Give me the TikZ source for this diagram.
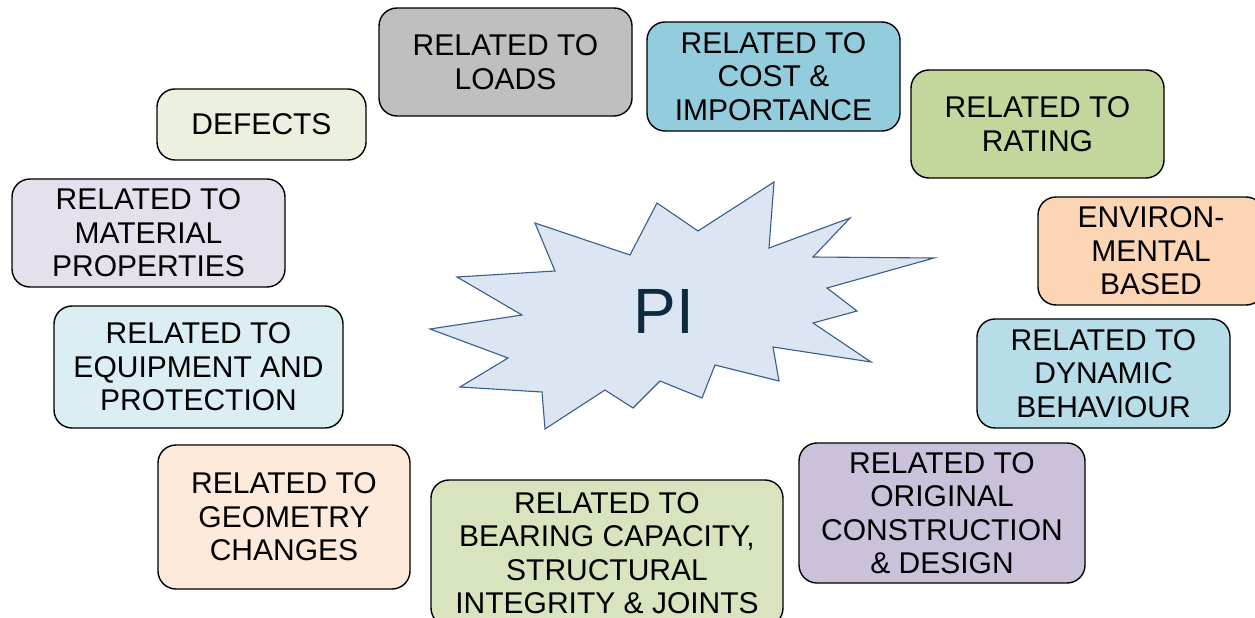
\documentclass[tikz,border=0pt]{standalone}
\usepackage{fontspec}
\setmainfont{Liberation Sans}
\definecolor{loadsgray}{HTML}{BFBFBF}
\definecolor{costblue}{HTML}{93CDDD}
\definecolor{ratinggreen}{HTML}{C3D69B}
\definecolor{defectsgreen}{HTML}{EBF1DE}
\definecolor{materialviolet}{HTML}{E6E0EC}
\definecolor{environpeach}{HTML}{FCD5B5}
\definecolor{equipblue}{HTML}{DBEEF4}
\definecolor{dynblue}{HTML}{B7DEE8}
\definecolor{geompeach}{HTML}{FDEADA}
\definecolor{bearinggreen}{HTML}{D7E4BD}
\definecolor{origviolet}{HTML}{CCC1DA}
\definecolor{burstfill}{HTML}{DCE6F2}
\definecolor{burstline}{HTML}{385D8A}
\definecolor{pitext}{HTML}{0E2A3F}

\begin{document}
\begin{tikzpicture}[x=1pt, y=-1pt,
  pibox/.style={draw, line width=1.4pt, rounded corners=18pt, align=center, inner sep=0pt,
    font=\fontsize{30}{33.5}\selectfont}]
\clip (0,0) rectangle (1255,618);
\fill[white] (0,0) rectangle (1255,618);
\draw [fill=burstfill, draw=burstline, line width=1.1pt, line join=miter]
  (430,329) -- (522,315) -- (457,277) -- (555,271) -- (535,223) -- (630,255) -- (657,203)
  -- (698,231) -- (774,182) -- (769,248) -- (850,218) -- (813,257) -- (934,258) -- (827,288)
  -- (857,311) -- (813,323) -- (871,362) -- (773,347) -- (779,381) -- (715,365) -- (702,398)
  -- (660,381) -- (633,408) -- (605,390) -- (545,429) -- (542,392) -- (460,387) -- (508,358) -- cycle;
\node (pi) [text=pitext, font=\fontsize{64}{70}\selectfont] at (664,311) {PI};
\node (loads) [pibox, fill=loadsgray, minimum width=253pt, minimum height=108pt] at (505.5,62) {RELATED TO\\LOADS};
\node (cost) [pibox, fill=costblue, minimum width=253pt, minimum height=109pt] at (773.5,76.5) {RELATED TO\\COST \&\\IMPORTANCE};
\node (rating) [pibox, fill=ratinggreen, minimum width=253pt, minimum height=108pt] at (1037.5,124) {RELATED TO\\RATING};
\node (defects) [pibox, fill=defectsgreen, minimum width=209pt, minimum height=71pt] at (261.5,124.5) {DEFECTS};
\node (material) [pibox, fill=materialviolet, minimum width=273pt, minimum height=108pt] at (148.5,233) {RELATED TO\\MATERIAL\\PROPERTIES};
\node (environ) [pibox, fill=environpeach, minimum width=226pt, minimum height=108pt] at (1151,251) {ENVIRON-\\MENTAL\\BASED};
\node (equip) [pibox, fill=equipblue, minimum width=289pt, minimum height=122pt] at (198.5,367) {RELATED TO\\EQUIPMENT AND\\PROTECTION};
\node (dynamic) [pibox, fill=dynblue, minimum width=253pt, minimum height=109pt] at (1103.5,373.5) {RELATED TO\\DYNAMIC\\BEHAVIOUR};
\node (geometry) [pibox, fill=geompeach, minimum width=252pt, minimum height=144pt] at (284,517) {RELATED TO\\GEOMETRY\\CHANGES};
\node (bearing) [pibox, fill=bearinggreen, minimum width=352pt, minimum height=146pt] at (607,553) {RELATED TO\\BEARING CAPACITY,\\STRUCTURAL\\INTEGRITY \& JOINTS};
\node (original) [pibox, fill=origviolet, minimum width=286pt, minimum height=140pt] at (942,513) {RELATED TO\\ORIGINAL\\CONSTRUCTION\\\& DESIGN};
\end{tikzpicture}
\end{document}
